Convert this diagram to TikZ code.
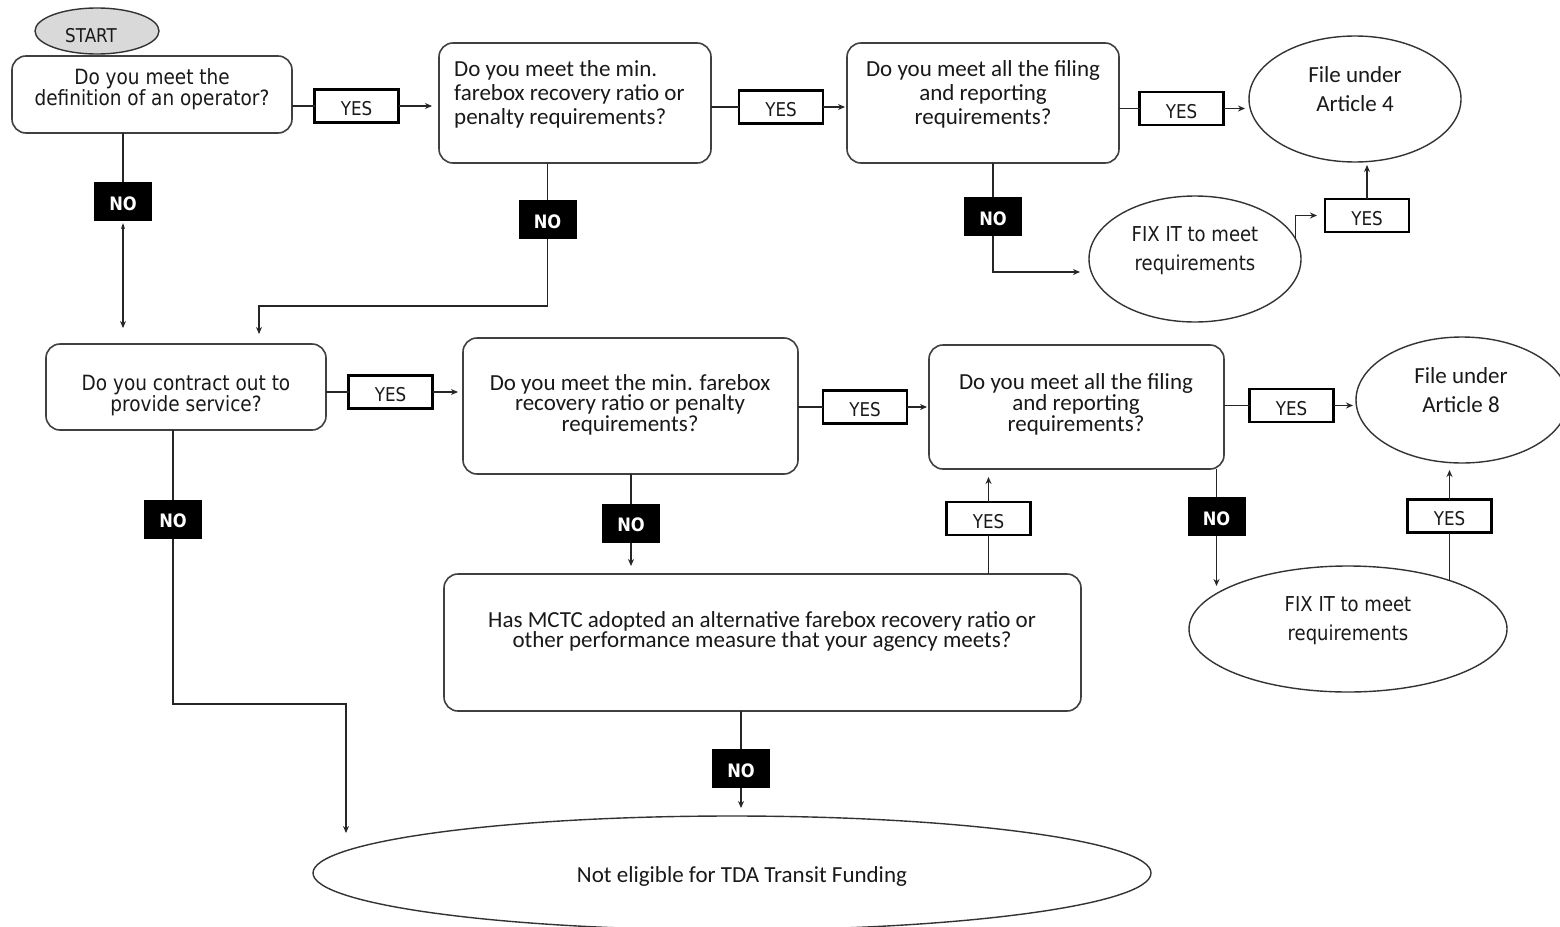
\documentclass[tikz,border=0pt]{standalone}
\usepackage{fontspec}
\setmainfont{Carlito}
\newfontfamily\tah[FakeStretch=0.88]{DejaVu Sans}
\usetikzlibrary{shapes.geometric,arrows.meta}
\begin{document}
\begin{tikzpicture}[x=1pt,y=-1pt,
  qbox/.style={draw=black!75, line width=1.6pt, rounded corners=14pt, inner sep=0pt, outer sep=0pt},
  yesbox/.style={draw=black, line width=2.6pt, minimum width=84pt, minimum height=33pt, inner sep=0pt, outer sep=0pt, text height=19.5pt, text depth=0pt, text=black!90, font=\tah\fontsize{19}{19}\selectfont},
  nobox/.style={fill=black, text=white, minimum width=58pt, minimum height=39pt, inner sep=0pt, outer sep=0pt, text height=17.5pt, text depth=0pt, font=\tah\bfseries\fontsize{18.5}{19}\selectfont},
  oval/.style={ellipse, draw=black!80, line width=1.4pt, inner sep=0pt, outer sep=0pt},
  tahtext/.style={align=center, text=black!90, inner sep=0pt, yshift=-2.5pt, font=\tah\fontsize{21}{19.5}\selectfont},
  caltext/.style={align=center, text=black!90, inner sep=0pt, yshift=-2pt, font=\fontsize{23}{24}\selectfont},
  caltight/.style={align=center, text=black!90, inner sep=0pt, yshift=-2pt, font=\fontsize{23}{19.5}\selectfont},
  ovaltext/.style={align=center, text=black!90, inner sep=0pt, yshift=-1.5pt, font=\fontsize{23}{29}\selectfont},
  ovaltah/.style={align=center, text=black!90, inner sep=0pt, yshift=-2pt, font=\tah\fontsize{20.5}{29}\selectfont},
  conn/.style={line width=1.3pt, draw=black!85},
  arr/.style={conn, -{Stealth[length=7pt,width=6pt]}}
]
\path[use as bounding box] (0,0) rectangle (1560,926);
\clip (0,0) rectangle (1560,926);
\fill[white] (0,0) rectangle (1560,926);

% start
\node[oval, fill=black!15, minimum width=124pt, minimum height=46pt] (S) at (97,31) {};
\node[tahtext, font=\tah\fontsize{19}{19}\selectfont] (tS) at (91,33) {START};

% question boxes
\node[qbox, minimum width=280pt, minimum height=77pt] (A) at (152,94.5) {};
\node[tahtext] (tA) at (152,86.5) {Do you meet the\\definition of an operator?};

\node[qbox, minimum width=272pt, minimum height=120pt] (B) at (575,103) {};
\node[caltext, align=left, anchor=west] (tB) at (454,92) {Do you meet the min.\\farebox recovery ratio or\\penalty requirements?};

\node[qbox, minimum width=272pt, minimum height=120pt] (C) at (983,103) {};
\node[caltext] (tC) at (983,92) {Do you meet all the filing\\and reporting\\requirements?};

\node[qbox, minimum width=280pt, minimum height=86pt] (D) at (186,387) {};
\node[tahtext] (tD) at (186,393) {Do you contract out to\\provide service?};

\node[qbox, minimum width=335pt, minimum height=136pt] (E) at (630.5,406) {};
\node[caltight] (tE) at (630,402.5) {Do you meet the min. farebox\\recovery ratio or penalty\\requirements?};

\node[qbox, minimum width=295pt, minimum height=124pt] (F) at (1076.5,407) {};
\node[caltight] (tF) at (1076,402.5) {Do you meet all the filing\\and reporting\\requirements?};

\node[qbox, minimum width=637pt, minimum height=137pt] (G) at (762.5,642.5) {};
\node[caltight] (tG) at (762,629.5) {Has MCTC adopted an alternative farebox recovery ratio or\\other performance measure that your agency meets?};

% ovals
\node[oval, minimum width=212pt, minimum height=126pt] (Art4) at (1355,99) {};
\node[ovaltext] (tArt4) at (1355,87.5) {File under\\Article 4};

\node[oval, minimum width=212pt, minimum height=126pt] (FIX1) at (1195,259) {};
\node[ovaltah] (tFIX1) at (1195,248.5) {FIX IT to meet\\requirements};

\node[oval, minimum width=212pt, minimum height=126pt] (Art8) at (1462,400) {};
\node[ovaltext] (tArt8) at (1461,388.5) {File under\\Article 8};

\node[oval, minimum width=318pt, minimum height=126pt] (FIX2) at (1348,629) {};
\node[ovaltah] (tFIX2) at (1348,618.5) {FIX IT to meet\\requirements};

\node[oval, minimum width=838pt, minimum height=114pt] (END) at (732,873) {};
\node[caltext] (tEND) at (742,874) {Not eligible for TDA Transit Funding};

% yes boxes
\node[yesbox] (Y1) at (356.5,106) {YES};
\node[yesbox] (Y2) at (781,107) {YES};
\node[yesbox] (Y3) at (1181.5,108.5) {YES};
\node[yesbox] (Y4) at (1367,215.5) {YES};
\node[yesbox] (Y5) at (390.5,392) {YES};
\node[yesbox] (Y6) at (865,407) {YES};
\node[yesbox] (Y7) at (1291.5,405.5) {YES};
\node[yesbox] (Y8) at (1449.5,516) {YES};
\node[yesbox] (Y9) at (988.5,518.5) {YES};

% no boxes
\node[nobox] (N1) at (123,201.5) {NO};
\node[nobox] (N2) at (547.5,219.5) {NO};
\node[nobox] (N3) at (993,216.5) {NO};
\node[nobox] (N4) at (173,519) {NO};
\node[nobox] (N5) at (631,523) {NO};
\node[nobox] (N6) at (1216.5,516.5) {NO};
\node[nobox] (N7) at (741,768.5) {NO};

% coordinates for free ends / bends
\coordinate (j2) at (259,306);
\coordinate (j4) at (346,704);
\coordinate (e4) at (346,833);
\coordinate (e6) at (1216.5,586);

% YES connectors, top row
\draw[conn] (A.east |- Y1.west) -- (Y1.west);
\draw[arr, shorten >=7pt] (Y1.east) -- (Y1.east -| B.west);
\draw[conn] (B.east |- Y2.west) -- (Y2.west);
\draw[arr, shorten >=2pt] (Y2.east) -- (Y2.east -| C.west);
\draw[conn] (C.east |- Y3.west) -- (Y3.west);
\draw[arr, shorten >=4pt] (Y3.east) -- (Y3.east -| Art4.west);
\draw[arr, shorten >=8pt] (FIX1.11) |- (Y4.west);
\draw[arr, shorten >=3pt] (Y4.north) -- (Y4.north |- Art4.south);

% NO connectors, top row
\draw[conn] (A.south -| N1.north) -- (N1.north);
\draw[conn, {Stealth[length=6pt,width=4pt]}-{Stealth[length=7pt,width=6pt]}, shorten <=2pt, shorten >=16pt] (N1.south) -- (N1.south |- D.north);
\draw[conn] (B.south -| N2.north) -- (N2.north);
\draw[arr, shorten >=10pt] (N2.south) |- (j2) -- (j2 |- D.north);
\draw[conn] (C.south -| N3.north) -- (N3.north);
\draw[arr, shorten >=9pt] (N3.south) |- ([yshift=-13pt]FIX1.west);

% YES connectors, middle row
\draw[conn] (D.east |- Y5.west) -- (Y5.west);
\draw[arr, shorten >=5pt] (Y5.east) -- (Y5.east -| E.west);
\draw[conn] (E.east |- Y6.west) -- (Y6.west);
\draw[arr, shorten >=2pt] (Y6.east) -- (Y6.east -| F.west);
\draw[conn] (F.east |- Y7.west) -- (Y7.west);
\draw[arr, shorten >=3pt] (Y7.east) -- (Y7.east -| Art8.west);

% NO connectors, middle row
\draw[conn] (D.south -| N4.north) -- (N4.north);
\draw[arr] (N4.south) |- (j4) -- (e4);
\draw[conn] (E.south -| N5.north) -- (N5.north);
\draw[arr, shorten >=8pt] (N5.south) -- (N5.south |- G.north);
\draw[conn] (F.south -| N6.north) -- (N6.north);
\draw[arr] (N6.south) -- (e6);

% fix and alternative
\draw[conn] (FIX2.25 -| Y8.south) -- (Y8.south);
\draw[arr, shorten >=7pt] (Y8.north) -- (Y8.north |- Art8.south);
\draw[conn] (G.north -| Y9.south) -- (Y9.south);
\draw[arr, shorten >=8pt] (Y9.north) -- (Y9.north |- F.south);
\draw[conn] (G.south -| N7.north) -- (N7.north);
\draw[arr, shorten >=8pt] (N7.south) -- (N7.south |- END.north);
\end{tikzpicture}
\end{document}
